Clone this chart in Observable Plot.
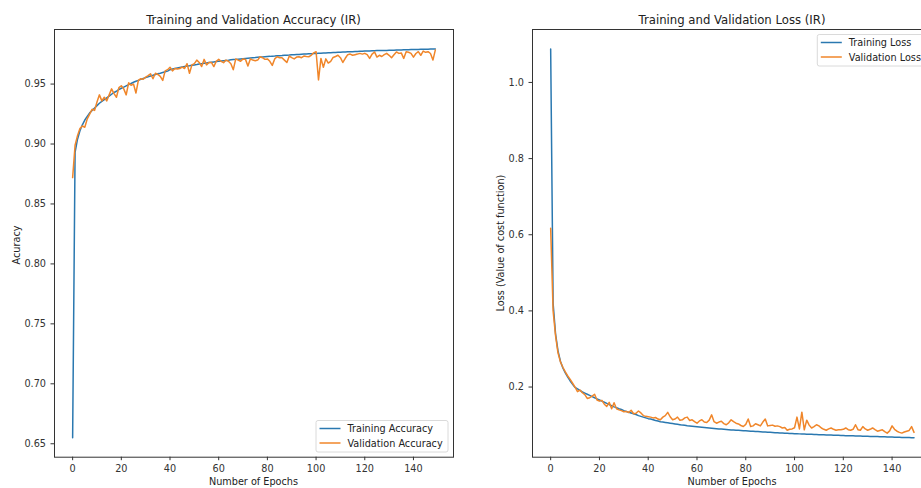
<!DOCTYPE html>
<html>
<head>
<meta charset="utf-8">
<script src="https://cdn.jsdelivr.net/npm/d3@7"></script>
<script src="https://cdn.jsdelivr.net/npm/@observablehq/plot@0.6"></script>
<style>
  html, body { margin: 0; padding: 0; background: #fff; width: 921px; height: 488px; overflow: hidden; }
  #wrap { position: relative; width: 921px; height: 488px; overflow: hidden; }
  .panel { position: absolute; top: 0; }
  .panel svg { max-width: none !important; display: block; }
  #overlay { position: absolute; left: 0; top: 0; pointer-events: none; }
  text { font-family: "DejaVu Sans", sans-serif; }
</style>
</head>
<body>
<div id="wrap">
  <div id="left" class="panel" style="left:0px"></div>
  <div id="right" class="panel" style="left:460px"></div>
  <svg id="overlay" width="921" height="488"></svg>
</div>
<script>
// ---- data ----
const epochCount = 150;
const xTicks = [0, 20, 40, 60, 80, 100, 120, 140];
const accTicks = [0.65, 0.70, 0.75, 0.80, 0.85, 0.90, 0.95];
const lossTicks = [0.2, 0.4, 0.6, 0.8, 1.0];

const trainAcc = [
0.655,0.893,0.904,0.911,0.916,0.920,0.923,0.926,0.928,0.930,
0.932,0.934,0.9355,0.937,0.9385,0.940,0.9415,0.943,0.944,0.9455,
0.9465,0.9475,0.9485,0.9495,0.9505,0.9515,0.9523,0.9531,0.9539,0.9547,
0.9554,0.9561,0.9567,0.9573,0.9580,0.9586,0.9591,0.9597,0.9602,0.9608,
0.962,0.9625,0.963,0.9634,0.9638,0.9642,0.9646,0.965,0.9653,0.9657,
0.966,0.9663,0.9667,0.967,0.9673,0.9676,0.9679,0.9682,0.9685,0.9688,
0.969,0.9692,0.9695,0.9697,0.9699,0.9702,0.9704,0.9706,0.9708,0.971,
0.9712,0.9714,0.9716,0.9718,0.972,0.9721,0.9723,0.9725,0.9726,0.9728,
0.973,0.9731,0.9733,0.9734,0.9736,0.9737,0.9738,0.974,0.9741,0.9742,
0.9744,0.9745,0.9746,0.9747,0.9749,0.975,0.9751,0.9752,0.9753,0.9754,
0.9756,0.9757,0.9758,0.9759,0.976,0.9761,0.9762,0.9763,0.9764,0.9765,
0.9766,0.9767,0.9768,0.9769,0.977,0.977,0.9771,0.9772,0.9773,0.9774,
0.9775,0.9776,0.9776,0.9777,0.9778,0.9779,0.9779,0.978,0.9781,0.9781,
0.9782,0.9783,0.9783,0.9784,0.9785,0.9785,0.9786,0.9786,0.9787,0.9788,
0.9788,0.9789,0.9789,0.979,0.979,0.9791,0.9791,0.9792,0.9792,0.9793
];

const valAcc = [
0.872,0.899,0.907,0.913,0.915,0.914,0.921,0.925,0.929,0.928,
0.935,0.941,0.936,0.939,0.936,0.941,0.946,0.942,0.939,0.947,
0.9486,0.946,0.941,0.951,0.949,0.950,0.9425,0.953,0.9545,0.954,
0.9558,0.957,0.9586,0.9544,0.959,0.958,0.9565,0.953,0.961,0.962,
0.964,0.961,0.963,0.9625,0.963,0.9642,0.963,0.967,0.959,0.966,
0.967,0.970,0.968,0.9646,0.9706,0.966,0.968,0.968,0.9646,0.969,
0.9706,0.969,0.9678,0.970,0.969,0.967,0.962,0.971,0.970,0.969,
0.971,0.9706,0.965,0.971,0.970,0.9695,0.970,0.9728,0.972,0.9706,
0.971,0.969,0.9656,0.971,0.9728,0.972,0.972,0.970,0.968,0.9734,
0.972,0.971,0.9725,0.9728,0.972,0.9734,0.973,0.9728,0.974,0.976,
0.977,0.9535,0.9714,0.964,0.971,0.9675,0.969,0.9722,0.973,0.974,
0.972,0.968,0.9715,0.9745,0.975,0.974,0.9745,0.975,0.9756,0.975,
0.9756,0.9745,0.9714,0.975,0.9768,0.9725,0.974,0.973,0.9745,0.9756,
0.974,0.972,0.9745,0.9768,0.9756,0.976,0.9714,0.977,0.9765,0.9756,
0.9725,0.9755,0.977,0.974,0.9775,0.9765,0.977,0.9755,0.970,0.9785
];

const trainLoss = [
1.088,0.420,0.340,0.295,0.268,0.250,0.237,0.226,0.216,0.207,
0.199,0.195,0.191,0.187,0.184,0.181,0.178,0.175,0.172,0.169,
0.166,0.163,0.160,0.157,0.154,0.151,0.148,0.146,0.143,0.141,
0.138,0.136,0.134,0.132,0.130,0.128,0.125,0.123,0.121,0.119,
0.117,0.116,0.114,0.112,0.111,0.109,0.108,0.107,0.106,0.105,
0.104,0.103,0.102,0.101,0.100,0.0995,0.0985,0.0978,0.097,0.0963,
0.0956,0.095,0.0943,0.0937,0.093,0.0924,0.0918,0.0912,0.0906,0.09,
0.0895,0.089,0.0885,0.088,0.0875,0.087,0.0866,0.0862,0.0858,0.0854,
0.085,0.0846,0.0842,0.0838,0.0834,0.083,0.0826,0.0822,0.0818,0.0814,
0.081,0.0806,0.0802,0.0798,0.0794,0.079,0.0787,0.0784,0.0781,0.0778,
0.0775,0.0772,0.077,0.0767,0.0764,0.0762,0.0759,0.0757,0.0754,0.0752,
0.0749,0.0747,0.0745,0.0742,0.074,0.0738,0.0735,0.0733,0.0731,0.0729,
0.0727,0.0724,0.0722,0.072,0.0718,0.0716,0.0714,0.0712,0.071,0.0708,
0.0706,0.0704,0.0702,0.07,0.0698,0.0696,0.0694,0.0692,0.069,0.0688,
0.0686,0.0684,0.0682,0.068,0.0678,0.0676,0.0674,0.0672,0.067,0.0668
];

const valLoss = [
0.617,0.400,0.335,0.290,0.266,0.252,0.240,0.229,0.220,0.210,
0.200,0.188,0.192,0.185,0.180,0.170,0.172,0.176,0.181,0.166,
0.163,0.165,0.155,0.149,0.160,0.143,0.159,0.143,0.140,0.138,
0.135,0.136,0.133,0.139,0.130,0.131,0.137,0.132,0.125,0.123,
0.122,0.121,0.119,0.120,0.116,0.114,0.121,0.125,0.1335,0.122,
0.114,0.116,0.121,0.113,0.114,0.119,0.121,0.112,0.114,0.109,
0.105,0.111,0.114,0.108,0.107,0.113,0.127,0.109,0.105,0.108,
0.110,0.104,0.101,0.106,0.114,0.109,0.105,0.103,0.099,0.0965,
0.102,0.116,0.0965,0.098,0.1035,0.101,0.098,0.108,0.116,0.098,
0.099,0.100,0.097,0.098,0.096,0.0925,0.094,0.0865,0.089,0.090,
0.093,0.121,0.090,0.134,0.0877,0.113,0.100,0.0925,0.096,0.101,
0.098,0.0925,0.089,0.0865,0.090,0.0925,0.089,0.0865,0.088,0.0877,
0.089,0.0925,0.088,0.0865,0.089,0.101,0.088,0.0865,0.096,0.090,
0.0865,0.089,0.0925,0.088,0.084,0.086,0.0877,0.083,0.079,0.085,
0.098,0.089,0.084,0.081,0.079,0.082,0.084,0.086,0.096,0.081
];

// ---- tables ----
const epochs = Array.from({length: epochCount}, (_, i) => i);
const accRows = epochs.map(i => ({epoch: i, train: trainAcc[i], val: valAcc[i]}));
const lossRows = epochs.map(i => ({epoch: i, train: trainLoss[i], val: valLoss[i]}));

const BLUE = "#2a78b0", ORANGE = "#f0862a";
function pad(lo, hi) { const m = (hi - lo) * 0.05; return [lo - m, hi + m]; }
const xDom = pad(0, epochCount - 1);
const accDom = pad(d3.min([...trainAcc, ...valAcc]), d3.max([...trainAcc, ...valAcc]));
const lossDom = pad(d3.min([...trainLoss, ...valLoss]), d3.max([...trainLoss, ...valLoss]));

const FS = 9.7;
const common = {
  height: 488,
  marginTop: 29,
  marginBottom: 31.3,
  style: {fontFamily: "DejaVu Sans", fontSize: FS + "px", color: "#333", background: "white", overflow: "visible"}
};

const left = Plot.plot({
  ...common,
  width: 460,
  marginLeft: 54,
  marginRight: 7,
  x: {domain: xDom},
  y: {domain: accDom},
  marks: [
    Plot.axisX({ticks: xTicks, tickSize: 3.5, tickPadding: 4.5, label: null}),
    Plot.axisY({ticks: accTicks, tickFormat: d3.format(".2f"), tickSize: 3.5, tickPadding: 5, label: null}),
    Plot.lineY(accRows, {x: "epoch", y: "train", stroke: BLUE, strokeWidth: 1.5}),
    Plot.lineY(accRows, {x: "epoch", y: "val", stroke: ORANGE, strokeWidth: 1.5}),
    Plot.frame({stroke: "#333", strokeWidth: 1})
  ]
});
document.getElementById("left").appendChild(left);

const right = Plot.plot({
  ...common,
  width: 480,
  marginLeft: 72,
  marginRight: 8.3,
  x: {domain: xDom},
  y: {domain: lossDom},
  marks: [
    Plot.axisX({ticks: xTicks, tickSize: 3.5, tickPadding: 4.5, label: null}),
    Plot.axisY({ticks: lossTicks, tickFormat: d3.format(".1f"), tickSize: 3.5, tickPadding: 5, label: null}),
    Plot.lineY(lossRows, {x: "epoch", y: "train", stroke: BLUE, strokeWidth: 1.5}),
    Plot.lineY(lossRows, {x: "epoch", y: "val", stroke: ORANGE, strokeWidth: 1.5}),
    Plot.frame({stroke: "#333", strokeWidth: 1})
  ]
});
document.getElementById("right").appendChild(right);

// ---- titles, axis labels, legends ----
const ov = d3.select("#overlay");
const txt = (x, y, s, opts = {}) => {
  const t = ov.append("text").attr("x", x).attr("y", y).text(s)
    .attr("font-size", opts.size || FS).attr("fill", opts.fill || "#222")
    .attr("text-anchor", opts.anchor || "middle");
  if (opts.rotate) t.attr("transform", `rotate(-90 ${x} ${y})`);
  return t;
};
txt(253.5, 24, "Training and Validation Accuracy (IR)", {size: 11.7});
txt(732, 24, "Training and Validation Loss (IR)", {size: 11.7});
txt(253.5, 485, "Number of Epochs");
txt(732, 485, "Number of Epochs");
txt(20, 245, "Acuracy", {rotate: true});
txt(503.5, 243, "Loss (Value of cost function)", {rotate: true});

function legend(x, y, w, labels) {
  ov.append("rect").attr("x", x).attr("y", y).attr("width", w).attr("height", 31.5)
    .attr("rx", 2).attr("fill", "white").attr("fill-opacity", 0.85)
    .attr("stroke", "#d0d0d0").attr("stroke-width", 0.8);
  [BLUE, ORANGE].forEach((c, i) => {
    const ly = y + 8 + i * 14.5;
    ov.append("line").attr("x1", x + 3.5).attr("x2", x + 24.5).attr("y1", ly).attr("y2", ly)
      .attr("stroke", c).attr("stroke-width", 1.5);
    txt(x + 31.5, ly + 3.5, labels[i], {anchor: "start"});
  });
}
legend(316, 420.5, 132, ["Training Accuracy", "Validation Accuracy"]);
legend(817.3, 34.5, 120, ["Training Loss", "Validation Loss"]);
</script>
</body>
</html>
